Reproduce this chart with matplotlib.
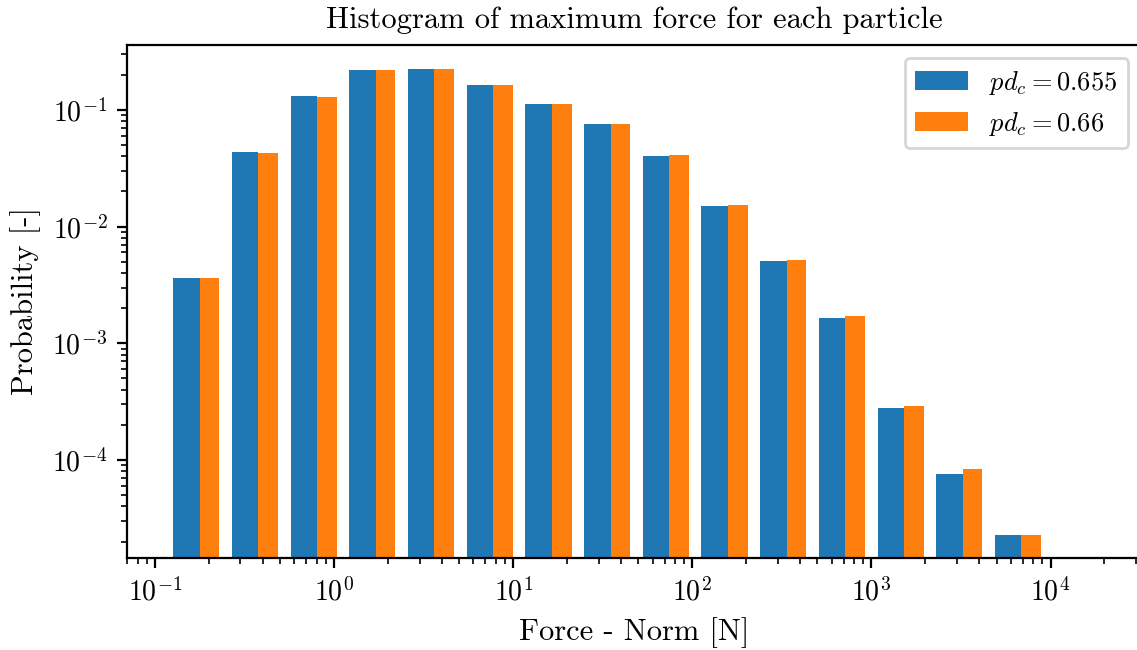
import numpy as np
import matplotlib
matplotlib.use('Agg')
import matplotlib.pyplot as plt

plt.rcParams['font.family'] = 'serif'
plt.rcParams['font.serif'] = ['cmr10']
plt.rcParams['mathtext.fontset'] = 'cm'
plt.rcParams['axes.formatter.use_mathtext'] = True
plt.rcParams['font.size'] = 10

# log-spaced bins between the smallest and largest maximum force [N]
f_min = 0.1137
f_max = 9354.0
n_bins = 15

# probability per bin for each packing density
prob_655 = [3.63e-3, 4.36e-2, 1.316e-1, 2.197e-1, 2.241e-1, 1.634e-1, 1.123e-1,
            7.57e-2, 4.03e-2, 1.501e-2, 5.07e-3, 1.647e-3, 2.79e-4, 7.59e-5, 2.28e-5]
prob_66 = [3.63e-3, 4.27e-2, 1.29e-1, 2.197e-1, 2.241e-1, 1.634e-1, 1.123e-1,
           7.57e-2, 4.11e-2, 1.531e-2, 5.17e-3, 1.714e-3, 2.90e-4, 8.38e-5, 2.28e-5]
labels = [r'$pd_c = 0.655$', r'$pd_c = 0.66$']

edges = np.logspace(np.log10(f_min), np.log10(f_max), n_bins + 1)
centers = np.sqrt(edges[:-1] * edges[1:])

fig = plt.figure(figsize=(5.685, 3.25), dpi=200)
ax = fig.add_axes([0.1117, 0.142, 0.8918, 0.7888])

ax.hist([centers, centers], bins=edges, weights=[prob_655, prob_66],
        label=labels, log=True)
ax.set_xscale('log')
ax.set_xlim(0.0698, 3.2e4)
ax.set_ylim(1.455e-5, 0.3597)

ax.set_title('Histogram of maximum force for each particle', fontsize=11)
ax.set_xlabel('Force - Norm [N]', fontsize=11)
ax.set_ylabel('Probability [-]', fontsize=11)
ax.tick_params(labelsize=10)
ax.legend(fontsize=9.5, loc='upper right')

fig.savefig('out.png', dpi=200)
